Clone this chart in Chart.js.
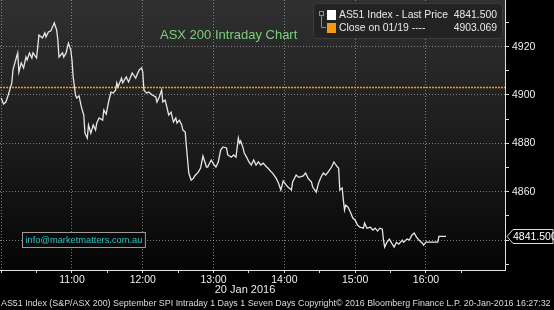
<!DOCTYPE html>
<html>
<head>
<meta charset="utf-8">
<script src="https://cdn.jsdelivr.net/npm/chart.js@4"></script>
<style>
  html, body { margin: 0; padding: 0; background: #000; }
</style>
</head>
<body>
<canvas id="chart" width="554" height="310"></canvas>
<script>
// intraday prices
const times = [
  '10:00','10:02','10:04','10:06','10:09','10:10','10:13','10:14','10:15','10:17',
  '10:19','10:21','10:22','10:24','10:26','10:27','10:30','10:31','10:32','10:35',
  '10:37','10:38','10:40','10:42','10:44','10:45','10:47','10:48','10:49','10:52',
  '10:53','10:55','10:57','10:59','11:00','11:01','11:03','11:04','11:06','11:08',
  '11:10','11:11','11:13','11:14','11:16','11:18','11:20','11:21','11:23','11:26',
  '11:27','11:29','11:31','11:33','11:35','11:37','11:38','11:39','11:42','11:43',
  '11:46','11:48','11:51','11:54','11:55','11:57','11:59','12:00','12:01','12:03',
  '12:05','12:08','12:11','12:12','12:14','12:16','12:17','12:19','12:21','12:22',
  '12:24','12:26','12:28','12:29','12:31','12:33','12:34','12:36','12:37','12:38',
  '12:39','12:41','12:43','12:44','12:47','12:49','12:51','12:54','12:55','12:58',
  '13:00','13:02','13:04','13:06','13:08','13:11','13:12','13:15','13:17','13:19',
  '13:21','13:22','13:23','13:25','13:26','13:28','13:30','13:32','13:34','13:36',
  '13:38','13:40','13:42','13:45','13:46','13:49','13:50','13:53','13:55','13:57',
  '13:59','14:01','14:03','14:06','14:07','14:10','14:12','14:13','14:16','14:18',
  '14:20','14:23','14:24','14:27','14:29','14:31','14:33','14:35','14:37','14:40',
  '14:42','14:45','14:46','14:47','14:49','14:50','14:51','14:52','14:54','14:56',
  '14:58','15:00','15:02','15:04','15:07','15:08','15:10','15:13','15:15','15:17',
  '15:19','15:21','15:23','15:24','15:25','15:27','15:29','15:31','15:33','15:35',
  '15:37','15:40','15:41','15:44','15:46','15:48','15:50','15:52','15:54','15:57',
  '15:58','16:00','16:03','16:10','16:11','16:17'
];
const prices = [
  4898.8,4896.3,4897.1,4900.0,4905.0,4910.4,4915.7,4917.4,4909.5,4913.3,
  4911.2,4915.7,4914.5,4917.4,4915.3,4917.4,4915.3,4919.9,4924.8,4923.6,
  4925.7,4924.0,4926.1,4926.5,4928.6,4929.8,4926.9,4922.8,4915.7,4917.4,
  4915.7,4917.4,4921.5,4918.6,4914.5,4907.5,4900.0,4898.8,4899.6,4895.0,
  4891.7,4884.2,4882.2,4887.6,4884.2,4887.6,4885.5,4888.4,4890.5,4889.6,
  4893.8,4892.1,4897.1,4901.2,4900.8,4902.1,4905.0,4903.3,4907.0,4905.0,
  4907.5,4905.4,4909.1,4907.0,4908.3,4910.4,4911.2,4909.5,4902.1,4900.8,
  4901.2,4900.0,4899.2,4897.1,4899.2,4902.1,4897.1,4897.9,4893.8,4891.7,
  4892.9,4888.8,4890.5,4888.4,4889.6,4887.6,4885.5,4884.7,4878.5,4873.1,
  4867.7,4864.8,4865.6,4866.5,4868.1,4869.8,4874.7,4870.2,4870.2,4873.1,
  4871.4,4870.2,4872.3,4877.2,4878.5,4878.1,4875.2,4874.3,4875.2,4874.3,
  4882.2,4880.1,4881.0,4878.1,4876.0,4874.3,4872.3,4871.0,4873.1,4871.0,
  4872.3,4871.0,4871.8,4870.2,4869.8,4868.1,4867.7,4865.6,4863.6,4860.7,
  4864.4,4863.1,4861.9,4860.7,4864.0,4866.9,4866.0,4866.0,4866.5,4867.7,
  4865.6,4864.0,4861.9,4859.8,4863.6,4866.0,4867.7,4866.9,4868.1,4870.2,
  4872.3,4870.2,4869.8,4860.7,4861.5,4856.5,4852.4,4854.4,4853.6,4851.5,
  4849.1,4848.2,4846.2,4845.3,4844.9,4847.0,4844.9,4845.3,4844.1,4844.9,
  4843.7,4844.9,4844.5,4840.0,4837.1,4839.1,4840.4,4838.7,4837.1,4839.1,
  4838.3,4840.0,4839.1,4840.4,4840.0,4842.0,4842.9,4841.2,4840.0,4838.7,
  4837.9,4839.1,4839.1,4839.1,4841.5,4841.5
];
const closePrice = 4903.069;

const tickTimes = ['10:00','10:30','11:00','11:30','12:00','12:30','13:00','13:30',
  '14:00','14:30','15:00','15:30','16:00','16:30'];
const hourLabels = ['11:00','12:00','13:00','14:00','15:00','16:00'];
const yTicks = [4830,4840,4850,4860,4870,4880,4890,4900,4910,4920,4930];
const yLabels = [4860,4880,4900,4920];
const xStart = '09:59', xEnd = '17:07';
const yMin = 4827.6, yMax = 4939.3;

const seriesName = 'AS51 Index - Last Price';
const closeName = 'Close on 01/19 ----';
const chartTitle = 'ASX 200 Intraday Chart';
const dateText = '20 Jan 2016';
const emailText = 'info@marketmatters.com.au';
const footerText = 'AS51 Index (S&P/ASX 200) September SPI Intraday 1 Days 1 Seven Days Copyright\u00a9 2016 Bloomberg Finance L.P. 20-Jan-2016 16:27:32';

const FONT = '"Liberation Sans", Arial, sans-serif';

function toMin(t) {
    const parts = t.split(':');
    return parseInt(parts[0], 10) * 60 + parseInt(parts[1], 10);
}

function minToString(m) {
    const h = String(Math.floor(m / 60)).padStart(2, '0');
    const mm = String(Math.round(m % 60)).padStart(2, '0');
    return `${h}:${mm}`;
}

// squeeze a text into a given width by shrinking the font
function fitFont(ctx, text, size, width) {
    ctx.font = size + 'px ' + FONT;
    const w = ctx.measureText(text).width;
    if (w > width) size = size * width / w;
    ctx.font = size.toFixed(2) + 'px ' + FONT;
}

const linePoints = times.map((t, i) => ({ x: toMin(t), y: prices[i] }));
const closePoints = [{ x: toMin(xStart), y: closePrice }, { x: toMin(xEnd), y: closePrice }];

const decor = {
    id: 'decor',
    beforeDraw(chart) {
        const { ctx, chartArea: a } = chart;
        ctx.save();
        ctx.fillStyle = '#000';
        ctx.fillRect(0, 0, chart.width, chart.height);
        const g = ctx.createLinearGradient(0, a.top, 0, a.bottom);
        g.addColorStop(0, '#303030');
        g.addColorStop(0.5, '#1d1d1d');
        g.addColorStop(1, '#050505');
        ctx.fillStyle = g;
        ctx.fillRect(a.left, a.top, a.right - a.left, a.bottom - a.top);
        ctx.restore();
    },
    afterDraw(chart) {
        const { ctx, chartArea: a } = chart;
        const yScale = chart.scales.y;
        ctx.save();

        // title
        ctx.font = '13px ' + FONT;
        ctx.fillStyle = '#7ccf7c';
        ctx.textBaseline = 'middle';
        ctx.textAlign = 'left';
        ctx.fillText(chartTitle, 160, 35);

        // email box
        fitFont(ctx, emailText, 10.5, 117);
        const ew = ctx.measureText(emailText).width;
        ctx.fillStyle = '#0a0a0a';
        ctx.fillRect(23, 233, ew + 5, 14);
        ctx.strokeStyle = '#9a9a9a';
        ctx.lineWidth = 1;
        ctx.strokeRect(22.5, 232.5, ew + 6, 15);
        ctx.fillStyle = '#2fc3c3';
        ctx.fillText(emailText, 25.5, 240.5);

        // legend
        const lx = 313, ly = 3, lw = 189, lh = 35;
        ctx.beginPath();
        ctx.roundRect(lx + 0.5, ly + 0.5, lw, lh, 4);
        ctx.fillStyle = '#232323';
        ctx.fill();
        ctx.strokeStyle = '#3c3c3c';
        ctx.stroke();
        ctx.strokeStyle = '#8090a0';
        ctx.strokeRect(319.5, 11.5, 4, 4);
        ctx.beginPath();
        ctx.moveTo(321.5, 16);
        ctx.lineTo(321.5, 27.5);
        ctx.lineTo(326, 27.5);
        ctx.stroke();
        ctx.fillStyle = '#ffffff';
        ctx.fillRect(327, 10, 9, 10);
        ctx.fillStyle = '#f39c12';
        ctx.fillRect(327, 23, 9, 10);
        ctx.fillStyle = '#e8e8e8';
        fitFont(ctx, seriesName, 11, 109);
        ctx.fillText(seriesName, 339, 15.5);
        ctx.fillText(closeName, 339, 28.5);
        ctx.textAlign = 'right';
        ctx.fillText(prices[prices.length - 1].toFixed(3), 497, 15.5);
        ctx.fillText(closePrice.toFixed(3), 497, 28.5);

        // last price tag on the axis
        const py = Math.round(yScale.getPixelForValue(prices[prices.length - 1])) + 0.5;
        ctx.beginPath();
        ctx.moveTo(a.right + 2, py);
        ctx.lineTo(a.right + 8, py - 7);
        ctx.lineTo(553, py - 7);
        ctx.lineTo(553, py + 7);
        ctx.lineTo(a.right + 8, py + 7);
        ctx.closePath();
        ctx.fillStyle = '#000';
        ctx.fill();
        ctx.strokeStyle = '#e0e0e0';
        ctx.stroke();
        ctx.font = '10.5px ' + FONT;
        ctx.fillStyle = '#ffffff';
        ctx.textAlign = 'left';
        ctx.fillText(prices[prices.length - 1].toFixed(3), a.right + 8, py + 0.5);

        // date under the axis
        ctx.font = '11px ' + FONT;
        ctx.textAlign = 'center';
        ctx.fillStyle = '#e8e8e8';
        ctx.fillText(dateText, 245, 290);

        // footer, squeezed to full width
        let size = 9;
        ctx.font = size + 'px ' + FONT;
        size = size * 551 / ctx.measureText(footerText).width;
        ctx.font = size.toFixed(2) + 'px ' + FONT;
        ctx.textAlign = 'left';
        ctx.fillStyle = '#dcdcdc';
        ctx.fillText(footerText, 1, 303.5);

        ctx.restore();
    }
};

const ctx = document.getElementById('chart').getContext('2d');
const myChart = new Chart(ctx, {
    type: 'line',
    data: {
        datasets: [{
            label: seriesName,
            data: linePoints,
            borderColor: '#e6e6e6',
            borderWidth: 1.3,
            pointRadius: 0,
            tension: 0
        }, {
            label: closeName,
            data: closePoints,
            borderColor: '#f39c12',
            borderWidth: 1.5,
            borderDash: [2, 1],
            pointRadius: 0
        }]
    },
    options: {
        responsive: false,
        animation: false,
        layout: { padding: 0 },
        plugins: {
            legend: { display: false },
            tooltip: { enabled: false }
        },
        scales: {
            x: {
                type: 'linear',
                min: toMin(xStart),
                max: toMin(xEnd),
                afterBuildTicks: scale => {
                    scale.ticks = tickTimes.map(t => ({ value: toMin(t) }));
                },
                afterFit: scale => {
                    scale.height = 40;
                    scale.paddingLeft = 0;
                    scale.paddingRight = 0;
                },
                ticks: {
                    autoSkip: false,
                    maxRotation: 0,
                    padding: 1,
                    color: '#eeeeee',
                    font: { family: FONT, size: 10.5 },
                    callback: value => {
                        const s = minToString(value);
                        return hourLabels.includes(s) ? s : '';
                    }
                },
                grid: {
                    color: c => {
                        const s = c.tick ? minToString(c.tick.value) : '';
                        return (hourLabels.includes(s) || s === '10:00') ? 'rgba(160,160,160,0.75)' : 'rgba(0,0,0,0)';
                    },
                    lineWidth: 1,
                    tickColor: '#d8d8d8',
                    tickLength: 3,
                    drawTicks: true
                },
                border: { display: true, color: '#e0e0e0', width: 1, dash: [1, 2] }
            },
            y: {
                position: 'right',
                min: yMin,
                max: yMax,
                afterBuildTicks: scale => {
                    scale.ticks = yTicks.map(v => ({ value: v }));
                },
                afterFit: scale => {
                    scale.width = 49;
                    scale.paddingTop = 0;
                    scale.paddingBottom = 0;
                },
                ticks: {
                    padding: 3,
                    color: '#eeeeee',
                    font: { family: FONT, size: 10.5 },
                    callback: value => yLabels.includes(value) ? String(value) : ''
                },
                grid: {
                    color: c => (c.tick && yLabels.concat([4840]).includes(c.tick.value)) ? 'rgba(160,160,160,0.75)' : 'rgba(0,0,0,0)',
                    lineWidth: 1,
                    tickColor: '#d8d8d8',
                    tickLength: 4,
                    drawTicks: true
                },
                border: { display: true, color: '#e0e0e0', width: 1, dash: [1, 2] }
            }
        }
    },
    plugins: [decor]
});
</script>
</body>
</html>
